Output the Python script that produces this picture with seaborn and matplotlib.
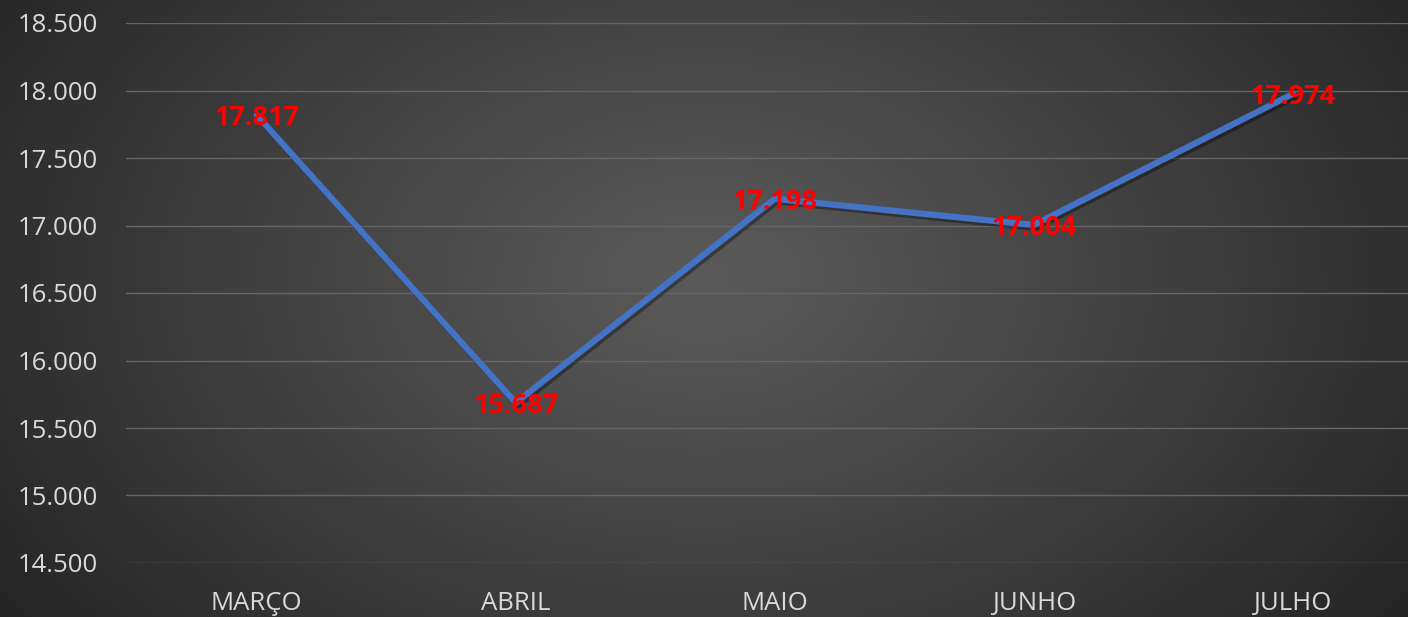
import numpy as np
import pandas as pd
import matplotlib
matplotlib.use("Agg")
import matplotlib.pyplot as plt
import matplotlib.patheffects as pe
from matplotlib.ticker import FuncFormatter
import seaborn as sns

meses = ["MARÇO", "ABRIL", "MAIO", "JUNHO", "JULHO"]
valores = [17817, 15687, 17198, 17004, 17974]
y_ticks = [14500, 15000, 15500, 16000, 16500, 17000, 17500, 18000, 18500]

sns.set_theme(style="dark")
plt.rcParams['font.family'] = ['Open Sans', 'DejaVu Sans']

W, H = 1408, 617
fig = plt.figure(figsize=(W / 100, H / 100), dpi=100)

# radial gradient background
bg = fig.add_axes([0, 0, 1, 1], zorder=0)
yy, xx = np.mgrid[0:H, 0:W]
cx, cy = W * 0.5, H * 0.45
r = np.sqrt(((xx - cx) / (W * 0.62)) ** 2 + ((yy - cy) / (H * 0.95)) ** 2)
r = np.clip(r, 0, 1)
light, dark = 0x5a / 255, 0x24 / 255
val = light + (dark - light) * r ** 1.1
img = np.dstack([val, val, val])
bg.imshow(img, aspect="auto", extent=[0, 1, 0, 1])
bg.axis("off")

bottom = (H - 563) / H
top = (H - 23) / H
left = 126 / W
ax = fig.add_axes([left, bottom, 1 - left, top - bottom], zorder=1)
ax.patch.set_alpha(0)

df = pd.DataFrame({"mes": meses, "valor": valores})
df["pos"] = np.arange(len(meses))
sns.lineplot(data=df, x="pos", y="valor", ax=ax, color="#4472C4", linewidth=4.5,
             sort=False,
             path_effects=[pe.SimpleLineShadow(offset=(1.5, -2), shadow_color="black", alpha=0.35),
                           pe.Normal()])

for p, v in zip(df["pos"], df["valor"]):
    ax.annotate(f"{v/1000:.3f}", xy=(p, v), xytext=(0, -2), textcoords="offset points",
                color="#FF0000", fontweight="bold", fontsize=19.5,
                ha="center", va="center", zorder=5)

ax.set_xlim(-0.505, 4.445)
ax.set_ylim(14500, 18500)
ax.set_yticks(y_ticks)
ax.yaxis.set_major_formatter(FuncFormatter(lambda v, _: f"{v/1000:.3f}"))
ax.set_xticks(range(len(meses)))
ax.set_xticklabels(meses)
ax.tick_params(axis="both", colors="#D9D9D9", labelsize=18.5, length=0)
ax.tick_params(axis="y", pad=20)
ax.tick_params(axis="x", pad=20)
ax.set_xlabel("")
ax.set_ylabel("")
ax.grid(True, axis="y", color="#666666", linewidth=1.0, linestyle="-")
ax.grid(False, axis="x")
for s in ax.spines.values():
    s.set_visible(False)

fig.savefig("out.png", dpi=100)
